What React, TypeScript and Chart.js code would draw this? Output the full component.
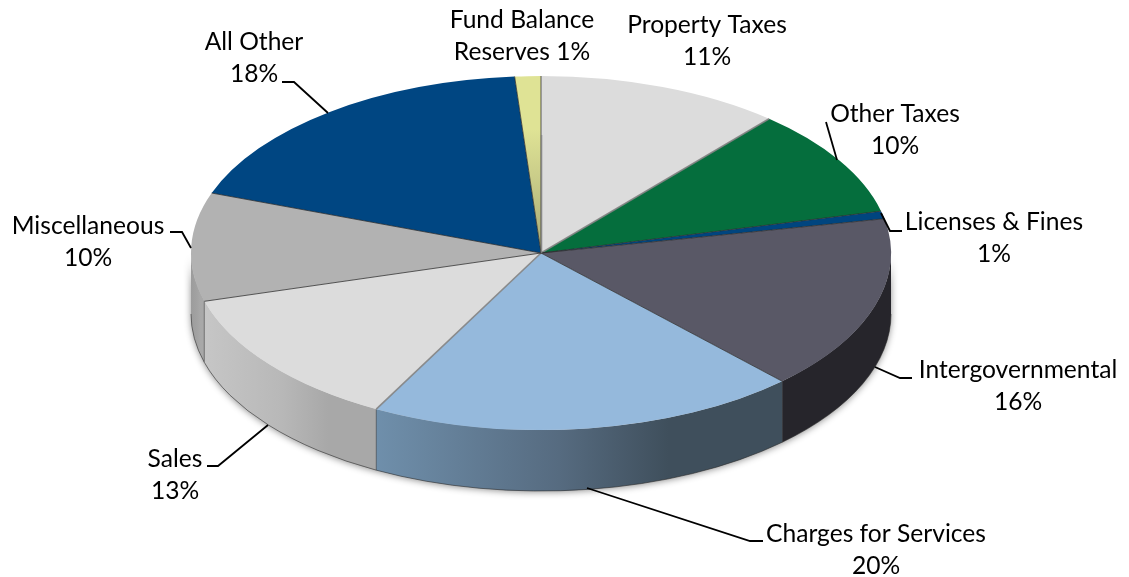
import { useEffect, useRef } from "react";
import { Chart, registerables } from "chart.js";

Chart.register(...registerables);

const categories = ["Property Taxes", "Other Taxes", "Licenses & Fines", "Intergovernmental", "Charges for Services", "Sales", "Miscellaneous", "All Other", "Fund Balance Reserves"];
const values = [11.3, 9.9, 0.7, 16.0, 19.9, 12.8, 9.9, 18.3, 1.2];
const faceColors = ["#dcdcdc", "#056e3d", "#00457f", "#595866", "#95b9dc", "#dcdcdc", "#b2b2b2", "#004682", "#dfe395"];
const wallStart = ["#c0c0c0", "#045530", "#003560", "#26252b", "#6f8fab", "#c6c6c6", "#9c9c9c", "#00365f", "#b0b278"];
const wallMid = ["#b0b0b0", "#034a28", "#003058", "#26252b", "#566b80", "#b8b8b8", "#a2a2a2", "#003058", "#a0a16c"];
const wallEnd = ["#a0a0a0", "#034020", "#002a50", "#26252b", "#3f4f5c", "#a8a8a8", "#a8a8a8", "#002a50", "#8f9060"];

const labelLines = [
  ["Fund Balance", "Reserves 1%"],
  ["Property Taxes", "11%"],
  ["Other Taxes", "10%"],
  ["All Other", "18%"],
  ["Miscellaneous", "10%"],
  ["Licenses & Fines", "1%"],
  ["Intergovernmental", "16%"],
  ["Charges for Services", "20%"],
  ["Sales", "13%"],
];
const labelAnchors = [[522, 20], [707, 25], [895, 114], [254, 42], [88, 226], [994, 222], [1018, 370], [876, 534], [175, 459]];
const labelLeading = 32.5;
const leaders = [
  [[826, 122], [837, 160]],
  [[881, 213], [890, 231], [902, 231]],
  [[875, 367], [900, 378], [912, 378]],
  [[587, 488], [750, 541], [763, 541]],
  [[268, 425], [218, 466], [207, 466]],
  [[170, 232], [182, 232], [191, 248]],
  [[282, 82], [294, 82], [328, 113]],
];

const CX = 541;
const CY = 253;
const RX = 350;
const RY = 177;
const DEPTH = 61;

const pie3d = {
  id: "pie3d",
  beforeDatasetsDraw(chart: any) {
    const ctx = chart.ctx;
    const arcs = chart.getDatasetMeta(0).data;
    const a0 = arcs[0];
    const order = arcs.map((_: any, i: number) => i).sort((p: number, q: number) => {
      const mid = (k: number) => Math.sin((arcs[k].startAngle + arcs[k].endAngle) / 2);
      return mid(p) - mid(q);
    });
    ctx.save();
    // soft silhouette shadow under the walls
    ctx.save();
    ctx.shadowColor = "rgba(0,0,0,0.45)";
    ctx.shadowBlur = 7;
    ctx.shadowOffsetY = 1;
    ctx.fillStyle = "#a0a0a0";
    ctx.beginPath();
    ctx.ellipse(CX, CY, RX, RY, 0, Math.PI, 0, true);
    ctx.ellipse(CX, CY + DEPTH, RX, RY, 0, 0, Math.PI, false);
    ctx.closePath();
    ctx.fill();
    ctx.restore();
    for (const i of order) {
      const s = Math.max(arcs[i].startAngle, 0);
      const e = Math.min(arcs[i].endAngle, Math.PI);
      if (e <= s) continue;
      const x1 = CX + RX * Math.cos(s);
      const x2 = CX + RX * Math.cos(e);
      const xL = Math.min(x1, x2);
      const xR = Math.max(x1, x2);
      const g = ctx.createLinearGradient(xL, 0, xR, 0);
      g.addColorStop(0, wallStart[i]);
      g.addColorStop(0.45, wallMid[i]);
      g.addColorStop(0.72, wallEnd[i]);
      g.addColorStop(1, wallEnd[i]);
      ctx.fillStyle = g;
      ctx.beginPath();
      ctx.ellipse(CX, CY, RX, RY, 0, s, e, false);
      ctx.ellipse(CX, CY + DEPTH, RX, RY, 0, e, s, true);
      ctx.closePath();
      ctx.fill();
      ctx.strokeStyle = "rgba(40,40,40,0.55)";
      ctx.lineWidth = 1;
      ctx.beginPath();
      ctx.ellipse(CX, CY + DEPTH, RX, RY, 0, s, e, false);
      ctx.stroke();
      if (e < Math.PI) {
        ctx.strokeStyle = "rgba(50,50,50,0.5)";
        ctx.beginPath();
        ctx.moveTo(x2, CY + RY * Math.sin(e));
        ctx.lineTo(x2, CY + DEPTH + RY * Math.sin(e));
        ctx.stroke();
      }
    }
    ctx.restore();
    // squash the library's round pie into the tilted ellipse
    ctx.save();
    ctx.translate(CX, CY);
    ctx.scale(RX / a0.outerRadius, RY / a0.outerRadius);
    ctx.translate(-a0.x, -a0.y);
  },
  afterDatasetsDraw(chart: any) {
    const ctx = chart.ctx;
    ctx.restore();
    const arcs = chart.getDatasetMeta(0).data;
    ctx.save();
    arcs.forEach((arc: any, i: number) => {
      const a = arc.endAngle;
      const light = i === 0 || i === 4;
      ctx.strokeStyle = light ? "rgba(130,130,130,0.9)" : "rgba(40,40,40,0.75)";
      ctx.lineWidth = light ? 1.6 : 1;
      ctx.beginPath();
      ctx.moveTo(CX, CY);
      ctx.lineTo(CX + RX * Math.cos(a), CY + RY * Math.sin(a));
      ctx.stroke();
    });
    // inner edge in the upper part of the pie
    ctx.strokeStyle = "rgba(130,130,130,0.85)";
    ctx.lineWidth = 1.6;
    ctx.beginPath();
    ctx.moveTo(CX + 0.5, CY - 118);
    ctx.lineTo(CX + 0.5, CY);
    ctx.stroke();
    // leader lines
    ctx.strokeStyle = "#000";
    ctx.lineWidth = 1.8;
    for (const pts of leaders) {
      ctx.beginPath();
      pts.forEach((p, k) => (k ? ctx.lineTo(p[0], p[1]) : ctx.moveTo(p[0], p[1])));
      ctx.stroke();
    }
    // labels
    ctx.fillStyle = "#000";
    ctx.font = "24.6px Lato, Carlito, sans-serif";
    ctx.textAlign = "center";
    ctx.textBaseline = "middle";
    labelLines.forEach((lines, i) => {
      lines.forEach((t, k) => ctx.fillText(t, labelAnchors[i][0], labelAnchors[i][1] + k * labelLeading));
    });
    ctx.restore();
  },
};

export default function App() {
  const ref = useRef<HTMLCanvasElement>(null);
  useEffect(() => {
    const chart = new Chart(ref.current as HTMLCanvasElement, {
      type: "pie",
      data: {
        labels: categories,
        datasets: [
          {
            data: values,
            borderWidth: 0,
            backgroundColor: (c: any) => {
              const i = c.dataIndex;
              const area = c.chart.chartArea;
              if (i !== 8 || !area) return faceColors[i];
              const r = Math.min(area.right - area.left, area.bottom - area.top) / 2;
              const yc = (area.top + area.bottom) / 2;
              const g = c.chart.ctx.createLinearGradient(0, yc - r, 0, yc);
              g.addColorStop(0, "#dfe395");
              g.addColorStop(0.3, "#dfe395");
              g.addColorStop(1, "#a9aa76");
              return g;
            },
          },
        ],
      },
      options: {
        responsive: false,
        animation: false,
        layout: { padding: 0 },
        plugins: { legend: { display: false }, tooltip: { enabled: false } },
      },
      plugins: [pie3d],
    } as any);
    return () => chart.destroy();
  }, []);
  return (
    <div style={{ position: "absolute", left: 0, top: 0, width: 1129, height: 577, background: "#fff" }}>
      <canvas ref={ref} width={1129} height={577} style={{ display: "block" }} />
    </div>
  );
}
